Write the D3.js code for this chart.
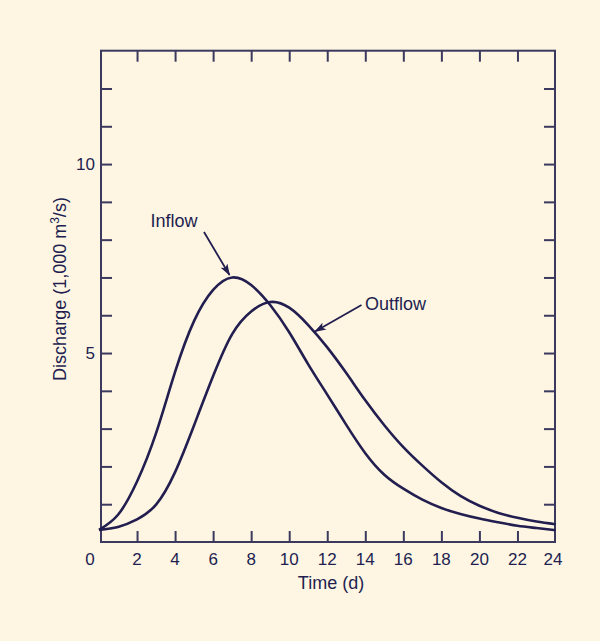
<!DOCTYPE html>
<html>
<head>
<meta charset="utf-8">
<script src="https://cdn.jsdelivr.net/npm/d3@7"></script>
<style>
  html, body { margin: 0; padding: 0; background: #FEF6E3; }
  svg { display: block; }
</style>
</head>
<body>
<svg id="chart" width="600" height="641"></svg>
<script>
// ---- Data ----
const time = [0,1,2,3,4,5,6,7,8,9,10,11,12,13,14,15,16,17,18,19,20,21,22,23,24];
const inflow  = [0.32,0.72,1.60,2.88,4.50,5.85,6.67,7.00,6.80,6.27,5.55,4.70,3.90,3.10,2.35,1.78,1.41,1.12,0.90,0.74,0.62,0.52,0.43,0.37,0.31];
const outflow = [0.32,0.40,0.60,0.99,1.85,3.09,4.39,5.50,6.10,6.35,6.20,5.74,5.15,4.47,3.75,3.09,2.51,2.02,1.58,1.22,0.96,0.77,0.64,0.54,0.47];
const xTickValues = [2,4,6,8,10,12,14,16,18,20,22];
const xTickLabels = [0,2,4,6,8,10,12,14,16,18,20,22,24];
const yTickValues = [1,2,3,4,5,6,7,8,9,10,11,12];
const yTickLabels = [5,10];
const xTitle = "Time (d)";
const annotations = [
  {label: "Inflow", series: "inflow"},
  {label: "Outflow", series: "outflow"}
];

// ---- Layout ----
const svg = d3.select("#chart");
const ink = "#221E50";
const axisInk = "#3B3A5E";
const font = "'Liberation Sans', Arial, Helvetica, sans-serif";

svg.append("rect").attr("width", 600).attr("height", 641).attr("fill", "#FEF6E3");

const frame = {left: 101, right: 555, top: 50.7, bottom: 542};
const x = d3.scaleLinear().domain([0, 24]).range([99, 555.5]);
const y = d3.scaleLinear().domain([0, 13]).range([542, 50.7]);

// frame
svg.append("rect")
  .attr("x", frame.left).attr("y", frame.top)
  .attr("width", frame.right - frame.left).attr("height", frame.bottom - frame.top)
  .attr("fill", "none").attr("stroke", axisInk).attr("stroke-width", 2);

function styleAxis(g) {
  g.select(".domain").remove();
  g.selectAll(".tick line").attr("stroke", axisInk).attr("stroke-width", 2);
  g.selectAll(".tick text").attr("fill", ink).attr("font-family", font).attr("font-size", 17);
}

// bottom
svg.append("g").attr("transform", `translate(0,${frame.bottom})`)
  .call(d3.axisBottom(x).tickValues(xTickValues).tickSize(-11).tickFormat(""))
  .call(styleAxis);
// bottom labels
svg.append("g").selectAll("text").data(xTickLabels).join("text")
  .attr("x", d => d === 0 ? 90 : (d === 24 ? 553 : x(d)))
  .attr("y", 565)
  .attr("text-anchor", "middle")
  .attr("font-family", font).attr("font-size", 17).attr("fill", ink)
  .text(d => d);

// top
svg.append("g").attr("transform", `translate(0,${frame.top})`)
  .call(d3.axisTop(x).tickValues(xTickValues).tickSize(-11).tickFormat(""))
  .call(styleAxis);

// left
svg.append("g").attr("transform", `translate(${frame.left},0)`)
  .call(d3.axisLeft(y).tickValues(yTickValues).tickSize(-11).tickPadding(6)
        .tickFormat(d => yTickLabels.includes(d) ? d : ""))
  .call(styleAxis);

// right
svg.append("g").attr("transform", `translate(${frame.right},0)`)
  .call(d3.axisRight(y).tickValues(yTickValues).tickSize(-11).tickFormat(""))
  .call(styleAxis);

// axis titles
svg.append("text")
  .attr("x", 331).attr("y", 589)
  .attr("text-anchor", "middle")
  .attr("font-family", font).attr("font-size", 18).attr("fill", ink)
  .text(xTitle);

const yt = svg.append("text")
  .attr("transform", "translate(66,289) rotate(-90)")
  .attr("text-anchor", "middle")
  .attr("font-family", font).attr("font-size", 18).attr("fill", ink);
yt.append("tspan").text("Discharge (1,000 m");
yt.append("tspan").attr("font-size", 12).attr("dy", -7).text("3");
yt.append("tspan").attr("dy", 7).text("/s)");

// curves
const line = d3.line().x(d => x(d[0])).y(d => y(d[1])).curve(d3.curveNatural);
const inflowPts = time.map((t, i) => [t, inflow[i]]);
const outflowPts = time.map((t, i) => [t, outflow[i]]);

svg.append("path").attr("d", line(inflowPts))
  .attr("fill", "none").attr("stroke", ink).attr("stroke-width", 2.6);
svg.append("path").attr("d", line(outflowPts))
  .attr("fill", "none").attr("stroke", ink).attr("stroke-width", 2.6);

// arrow marker
svg.append("defs").append("marker")
  .attr("id", "arrow").attr("viewBox", "0 0 12 8")
  .attr("refX", 11).attr("refY", 4)
  .attr("markerWidth", 12).attr("markerHeight", 8)
  .attr("markerUnits", "userSpaceOnUse")
  .attr("orient", "auto")
  .append("path").attr("d", "M0,0 L12,4 L0,8 L3,4 Z").attr("fill", ink);

// annotations
svg.append("text").attr("x", 150.5).attr("y", 226.5)
  .attr("font-family", font).attr("font-size", 18).attr("fill", ink)
  .text(annotations[0].label);
svg.append("line")
  .attr("x1", 204).attr("y1", 232).attr("x2", 229.5).attr("y2", 275)
  .attr("stroke", ink).attr("stroke-width", 1.8).attr("marker-end", "url(#arrow)");

svg.append("text").attr("x", 365).attr("y", 309.5)
  .attr("font-family", font).attr("font-size", 18).attr("fill", ink)
  .text(annotations[1].label);
svg.append("line")
  .attr("x1", 361.5).attr("y1", 305).attr("x2", 315).attr("y2", 331.5)
  .attr("stroke", ink).attr("stroke-width", 1.8).attr("marker-end", "url(#arrow)");
</script>
</body>
</html>
